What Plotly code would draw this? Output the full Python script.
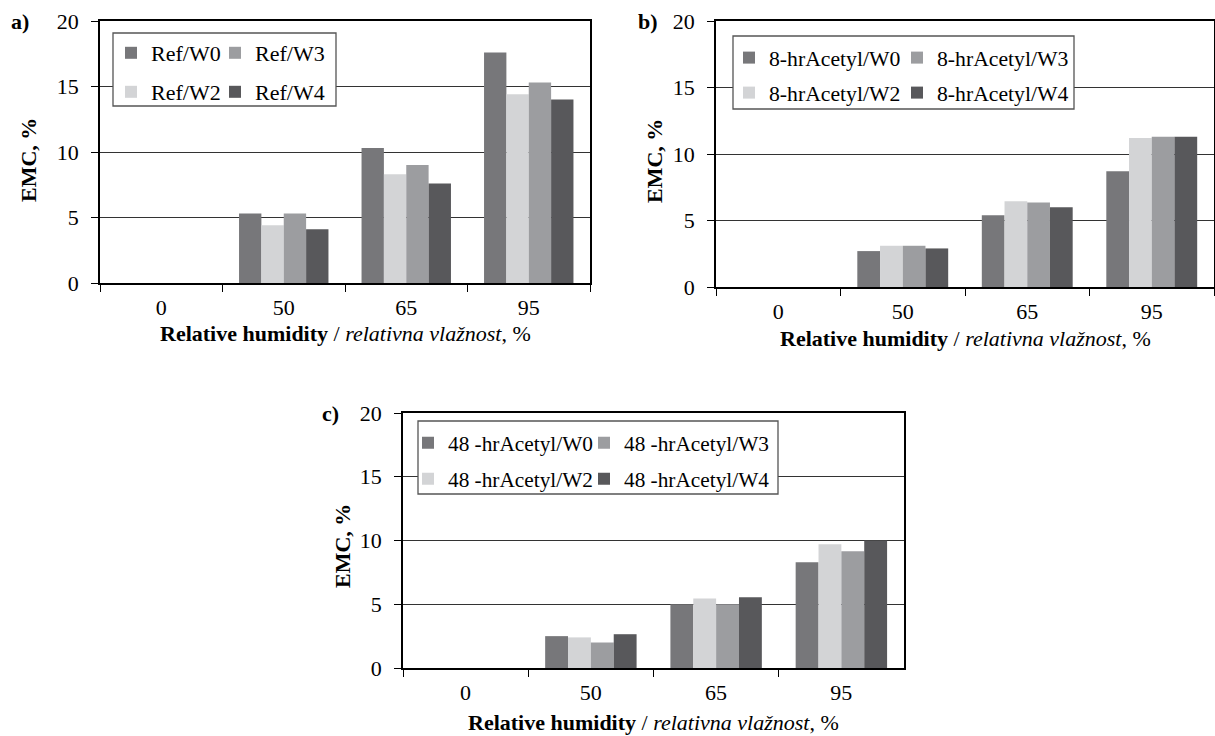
import plotly.graph_objects as go

W, H = 1215, 736

categories = ["0", "50", "65", "95"]
series = ["W0", "W2", "W3", "W4"]
colors = ["#77777a", "#d3d4d6", "#9c9da0", "#58585b"]

ref_w0 = [0, 5.3, 10.3, 17.6]
ref_w2 = [0, 4.4, 8.3, 14.4]
ref_w3 = [0, 5.3, 9.0, 15.3]
ref_w4 = [0, 4.1, 7.6, 14.0]

ac8_w0 = [0, 2.7, 5.4, 8.7]
ac8_w2 = [0, 3.1, 6.45, 11.2]
ac8_w3 = [0, 3.1, 6.35, 11.3]
ac8_w4 = [0, 2.9, 6.0, 11.3]

ac48_w0 = [0, 2.5, 5.0, 8.3]
ac48_w2 = [0, 2.4, 5.45, 9.7]
ac48_w3 = [0, 2.0, 5.0, 9.15]
ac48_w4 = [0, 2.65, 5.55, 10.0]

panels = [
    {"prefix": "Ref", "values": [ref_w0, ref_w2, ref_w3, ref_w4]},
    {"prefix": "8-hrAcetyl", "values": [ac8_w0, ac8_w2, ac8_w3, ac8_w4]},
    {"prefix": "48 -hrAcetyl", "values": [ac48_w0, ac48_w2, ac48_w3, ac48_w4]},
]

FONT = "Liberation Serif"
FS = 22

def px(x):
    return x / W

def py(y):
    return 1 - y / H

# plot areas in pixels: (left, right, top(20), bottom(0))
areas = [(100, 590, 21, 283), (716, 1214, 21, 287), (403, 904, 413, 668)]
# legend layout: legend anchor x for each column, row center y, box (l, t, r, b)
legend_x = [(111, 215), (729, 897), (408, 584)]
legend_rows = [(53, 92), (58, 93), (443, 479)]
legend_font = [22, 21.7, 21.3]
legend_boxes = [(113, 33, 336, 106), (733, 36, 1074, 109), (418, 421, 778, 494)]
# row/col placement of series in legend: W0 (r0,c0), W2 (r1,c0), W3 (r0,c1), W4 (r1,c1)
legend_pos = [(0, 0), (1, 0), (0, 1), (1, 1)]

fig = go.Figure()
layout = dict(
    width=W, height=H, margin=dict(l=0, r=0, t=0, b=0, autoexpand=False),
    paper_bgcolor="white", plot_bgcolor="white",
    font=dict(family=FONT, size=FS, color="black"),
    barmode="group", bargap=0.27, bargroupgap=0,
    showlegend=True,
)

shapes = []
annotations = []
k = 0
for p, panel in enumerate(panels):
    xa = "x" if p == 0 else f"x{p+1}"
    ya = "y" if p == 0 else f"y{p+1}"
    xkey = "xaxis" if p == 0 else f"xaxis{p+1}"
    ykey = "yaxis" if p == 0 else f"yaxis{p+1}"
    l, r, t, b = areas[p]
    layout[xkey] = dict(
        domain=[px(l), px(r)], anchor=ya, type="category",
        categoryorder="array", categoryarray=categories,
        tickson="boundaries", ticks="outside", ticklen=7, tickcolor="black",
        showline=True, linecolor="black", linewidth=1.5, mirror=True,
        showgrid=False, tickfont=dict(family=FONT, size=FS),
        ticklabelstandoff=4, automargin=False,
    )
    layout[ykey] = dict(
        domain=[py(b), py(t)], anchor=xa, range=[0, 20], dtick=5,
        ticks="outside", ticklen=7, tickcolor="black",
        showline=True, linecolor="black", linewidth=1.5, mirror=True,
        showgrid=True, gridcolor="#333333", gridwidth=1,
        tickfont=dict(family=FONT, size=FS), ticklabelstandoff=8,
        zeroline=False, automargin=False,
    )
    for s in range(4):
        k += 1
        lid = "legend" if k == 1 else f"legend{k}"
        fig.add_trace(go.Bar(
            x=categories, y=panel["values"][s], name=f"{panel['prefix']}/{series[s]}",
            marker=dict(color=colors[s], line=dict(width=0)),
            xaxis=xa, yaxis=ya, legend=lid, offsetgroup=str(s),
        ))
        row, col = legend_pos[s]
        layout[lid] = dict(
            x=px(legend_x[p][col]), y=py(legend_rows[p][row]),
            xanchor="left", yanchor="middle",
            bgcolor="rgba(0,0,0,0)", borderwidth=0,
            font=dict(family=FONT, size=legend_font[p], color="black"),
            itemclick=False, itemdoubleclick=False,
        )
    bl, bt, br, bb = legend_boxes[p]
    shapes.append(dict(
        type="rect", xref="paper", yref="paper",
        x0=px(bl), x1=px(br), y0=py(bb), y1=py(bt),
        fillcolor="white", line=dict(color="#555555", width=1.3), layer="above",
    ))

# panel labels
for txt, x, y in [("a)", 20, 22), ("b)", 648, 21), ("c)", 330, 413)]:
    annotations.append(dict(text=f"<b>{txt}</b>", x=px(x), y=py(y), xref="paper", yref="paper",
                            showarrow=False, xanchor="center", yanchor="middle",
                            font=dict(family=FONT, size=FS)))
# y titles
for x, y in [(29, 160), (654, 161), (342, 546)]:
    annotations.append(dict(text="<b>EMC, %</b>", x=px(x), y=py(y), xref="paper", yref="paper",
                            showarrow=False, textangle=-90, xanchor="center", yanchor="middle",
                            font=dict(family=FONT, size=FS)))
# x titles
for x, y in [(345, 333), (965, 338), (653, 722)]:
    annotations.append(dict(text="<b>Relative humidity</b> / <i>relativna vlažnost</i>, %",
                            x=px(x), y=py(y), xref="paper", yref="paper",
                            showarrow=False, xanchor="center", yanchor="middle",
                            font=dict(family=FONT, size=FS)))

layout["shapes"] = shapes
layout["annotations"] = annotations
fig.update_layout(**layout)
fig.write_html(
    "out.html",
    config={"displayModeBar": False},
    post_script="document.body.style.margin='0';document.body.style.overflow='hidden';",
)
